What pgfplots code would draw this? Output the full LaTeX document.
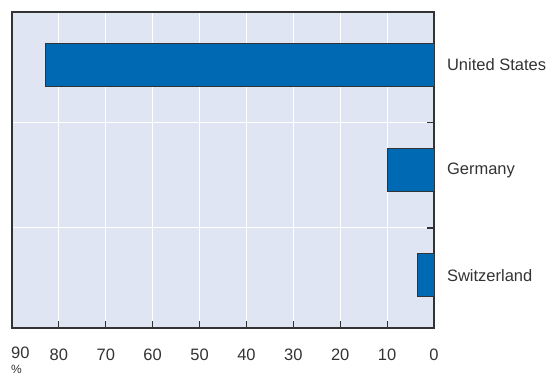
\documentclass[border=0pt]{standalone}
\usepackage{fontspec}
\setmainfont{Liberation Sans}
\usepackage{pgfplots}
\pgfplotsset{compat=1.18}
\definecolor{barblue}{HTML}{0069B4}
\definecolor{bgblue}{HTML}{E0E5F4}
\definecolor{txt}{HTML}{333333}
\begin{document}
\begin{tikzpicture}
\begin{axis}[
    scale only axis, width=422pt, height=316pt,
    clip=false,
    xbar, bar width=43pt,
    x dir=reverse, xmin=0, xmax=90,
    ymin=-0.5, ymax=2.5,
    xtick={0,10,...,90},
    xticklabels={0,10,20,30,40,50,60,70,80,},
    ytick={0.45,1.45}, yticklabels={},
    extra y ticks={0,1,2},
    extra y tick labels={Switzerland,Germany,United States},
    extra y tick style={major tick length=0pt, grid=none,
        yticklabel style={anchor=west, xshift=9.5pt}},
    ytick pos=right, yticklabel pos=right,
    xtick pos=bottom,
    tick align=inside,
    major tick length=7pt,
    axis background/.style={fill=bgblue},
    grid style={white, line width=1pt},
    xmajorgrids, ymajorgrids,
    axis line style={txt, line width=1.3pt},
    tick style={txt, line width=1.2pt},
    ticklabel style={font=\fontsize{16.5}{16}\selectfont, text=txt},
    xticklabel style={yshift=-17.5pt},
    /pgf/number format/assume math mode=true,
]
\addplot[fill=barblue, draw=txt, line width=1pt] coordinates {
    (3.6,0)
    (10.0,1)
    (82.9,2)
};
\node[anchor=north west, inner sep=0pt, text=txt,
      font=\fontsize{16.5}{16}\selectfont, yshift=-18.5pt, xshift=-1pt]
    at (axis cs:90,-0.5) {90};
\node[anchor=base west, inner sep=0pt, text=txt,
      font=\fontsize{12}{14}\selectfont, yshift=-45.5pt, xshift=-1pt]
    at (axis cs:90,-0.5) {\%};
\coordinate (sw) at (axis cs:90,-0.5);
\coordinate (ne) at (axis cs:0,2.5);
\end{axis}
\pgfresetboundingbox
\path[use as bounding box] ([xshift=-12pt,yshift=-48pt]sw) rectangle ([xshift=119pt,yshift=12pt]ne);
\end{tikzpicture}
\end{document}
